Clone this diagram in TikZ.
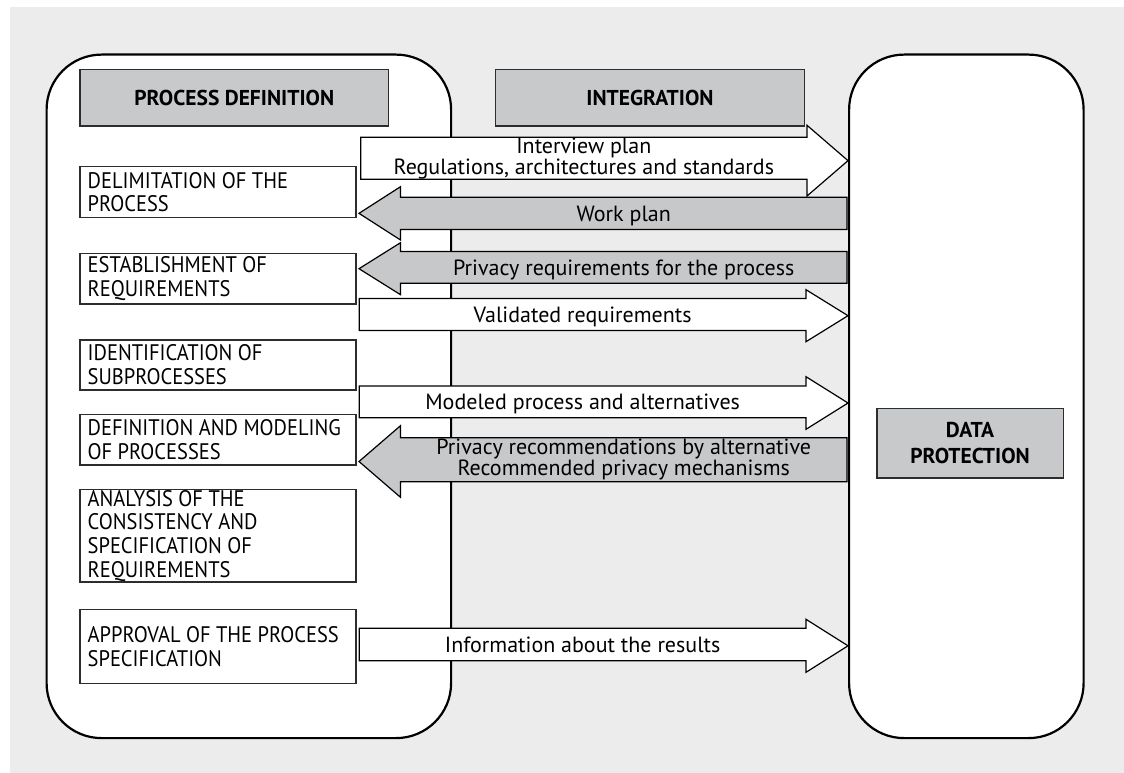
\documentclass[tikz,border=0pt]{standalone}
\usepackage{fontspec}
\setmainfont{PT Sans}
\newfontfamily\capsfont{PT Sans}[FakeStretch=0.91]
\definecolor{bggray}{RGB}{235,236,235}
\definecolor{hdrgray}{RGB}{200,201,203}
\definecolor{arrgray}{RGB}{199,200,202}
\definecolor{edgegray}{RGB}{45,45,45}
% right-pointing block arrow: name, x left, x head base, x tip, body top, body bottom, head top, head bottom
\newcommand\blockR[8]{%
  \draw[arrR] (#2,#5) -- (#3,#5) -- (#3,#7) -- (#4,{(#7+#8)/2}) -- (#3,#8) -- (#3,#6) -- (#2,#6) -- cycle;
  \coordinate (#1) at ({(#2+#3)/2},{(#5+#6)/2});}
% left-pointing block arrow: name, x tip, x head base, x right, body top, body bottom, head top, head bottom
\newcommand\blockL[8]{%
  \draw[arrL] (#4,#5) -- (#3,#5) -- (#3,#7) -- (#2,{(#7+#8)/2}) -- (#3,#8) -- (#3,#6) -- (#4,#6) -- cycle;
  \coordinate (#1) at ({(#3+#4)/2},{(#5+#6)/2});}
\begin{document}
\begin{tikzpicture}[x=1pt,y=-1pt,
  lane/.style={draw=black,line width=2.2pt,fill=white,rounded corners=55pt,inner sep=0pt,anchor=north west},
  header/.style={draw=edgegray,line width=1.3pt,fill=hdrgray,inner sep=0pt,anchor=north west,
     font=\fontsize{21.5}{26}\selectfont\bfseries,align=center},
  stepbox/.style={draw=edgegray,line width=1.3pt,fill=white,inner sep=0pt,anchor=north west},
  boxtxt/.style={font=\capsfont\fontsize{22.5}{23.7}\selectfont,inner sep=0pt,anchor=west,align=left},
  lbl/.style={font=\fontsize{22}{23.7}\selectfont,inner sep=0pt,text height=15.4pt,text depth=0pt},
  lbltwo/.style={font=\fontsize{22}{21.5}\selectfont,inner sep=0pt,align=center},
  arrR/.style={draw=black,line width=1.2pt,fill=white},
  arrL/.style={draw=black,line width=1.2pt,fill=arrgray},
]
\useasboundingbox (0,0) rectangle (1124,773);
\fill[bggray] (10,7) rectangle (1124,773);
% lanes
\node[lane, minimum width=404.5, minimum height=683.5] (pd) at (45.5,53.5) {};
\node[lane, minimum width=234.5, minimum height=683.5] (dp) at (848,53.5) {};
% headers
\node[header, minimum width=308.7, minimum height=56.3] (hpd) at (79.3,69) {PROCESS DEFINITION};
\node[header, minimum width=309.4, minimum height=56.3] (hint) at (494.6,69) {INTEGRATION};
\node[header, minimum width=186.2, minimum height=69.3] (hdp) at (876.3,408) {DATA\\PROTECTION};
% steps
\node[stepbox, minimum width=276.1, minimum height=50.7] (b1) at (79.3,166) {};
\node[stepbox, minimum width=276.1, minimum height=50.6] (b2) at (79.3,252.7) {};
\node[stepbox, minimum width=276.1, minimum height=50] (b3) at (79.3,339.3) {};
\node[stepbox, minimum width=276.1, minimum height=50.3] (b4) at (79.3,414) {};
\node[stepbox, minimum width=276.1, minimum height=92.3] (b5) at (79.3,489) {};
\node[stepbox, minimum width=276.1, minimum height=74] (b6) at (79.3,608.7) {};
\node[boxtxt] (t1) at ([xshift=8.2pt]b1.west) {DELIMITATION OF THE\\PROCESS};
\node[boxtxt] (t2) at ([xshift=8.2pt]b2.west) {ESTABLISHMENT OF\\REQUIREMENTS};
\node[boxtxt] (t3) at ([xshift=8.2pt]b3.west) {IDENTIFICATION OF\\SUBPROCESSES};
\node[boxtxt] (t4) at ([xshift=8.2pt]b4.west) {DEFINITION AND MODELING\\OF PROCESSES};
\node[boxtxt] (t5) at ([xshift=8.2pt]b5.west) {ANALYSIS OF THE\\CONSISTENCY AND\\SPECIFICATION OF\\REQUIREMENTS};
\node[boxtxt] (t6) at ([xshift=8.2pt]b6.west) {APPROVAL OF THE PROCESS\\SPECIFICATION};
% flows
\blockR{a1}{360.7}{807}{848}{137.3}{179.3}{125.3}{196}
\blockL{a2}{359}{400.5}{847}{197.3}{229.5}{186.7}{240}
\blockL{a3}{359}{400.5}{847}{251.5}{283.3}{242.7}{294.7}
\blockR{a4}{359.3}{806}{848}{298.5}{330.5}{289.7}{341.7}
\blockR{a5}{359.3}{806}{848}{386}{417.7}{376.7}{429.3}
\blockL{a6}{359}{400.5}{847}{437.7}{481.7}{425.7}{497.3}
\blockR{a7}{359.3}{806}{848}{628.3}{660.7}{619.3}{672.3}
\node[lbltwo] (l1) at (a1) {Interview plan\\Regulations, architectures and standards};
\node[lbl] (l2) at (a2) {Work plan};
\node[lbl] (l3) at (a3) {Privacy requirements for the process};
\node[lbl] (l4) at (a4) {Validated requirements};
\node[lbl] (l5) at (a5) {Modeled process and alternatives};
\node[lbltwo] (l6) at (a6) {Privacy recommendations by alternative\\Recommended privacy mechanisms};
\node[lbl] (l7) at (a7) {Information about the results};
\end{tikzpicture}
\end{document}
